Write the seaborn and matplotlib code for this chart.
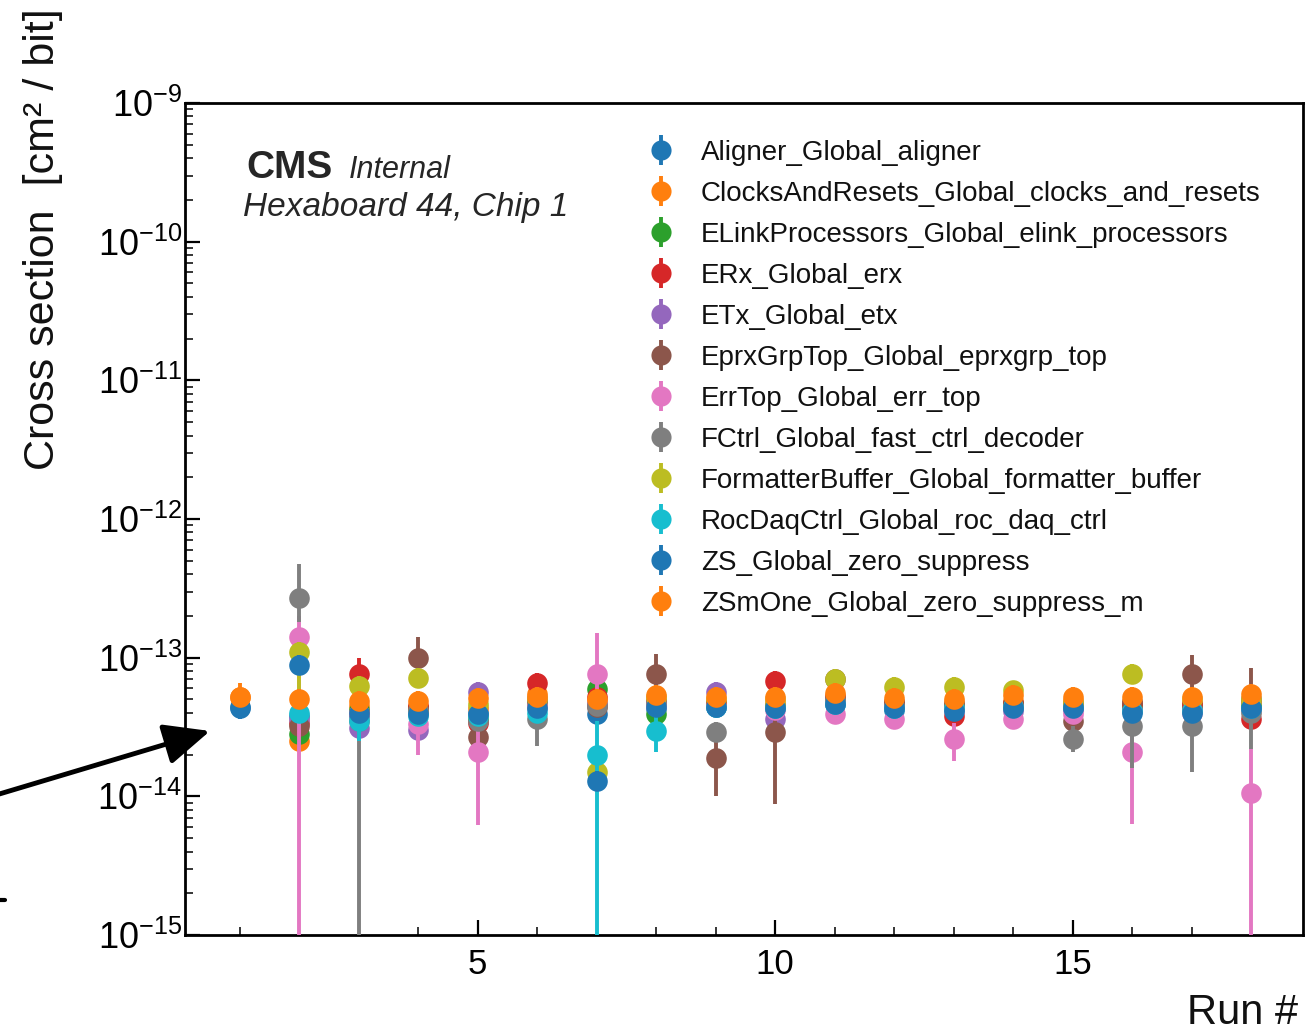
import numpy as np
import pandas as pd
import matplotlib
matplotlib.use("Agg")
import matplotlib.pyplot as plt
import seaborn as sns
from matplotlib.lines import Line2D
from matplotlib.ticker import FixedLocator, MultipleLocator, LogLocator, LogFormatterSciNotation, NullFormatter

# ---------------- data ----------------
runs = list(range(1, 19))
nan = np.nan

series_names = [
    "Aligner_Global_aligner",
    "ClocksAndResets_Global_clocks_and_resets",
    "ELinkProcessors_Global_elink_processors",
    "ERx_Global_erx",
    "ETx_Global_etx",
    "EprxGrpTop_Global_eprxgrp_top",
    "ErrTop_Global_err_top",
    "FCtrl_Global_fast_ctrl_decoder",
    "FormatterBuffer_Global_formatter_buffer",
    "RocDaqCtrl_Global_roc_daq_ctrl",
    "ZS_Global_zero_suppress",
    "ZSmOne_Global_zero_suppress_m",
]

aligner   = [4.4e-14, 3.8e-14, 3.8e-14, 4.0e-14, 4.0e-14, 4.4e-14, 3.9e-14, 4.3e-14, 4.4e-14, 4.3e-14, 4.6e-14, 4.2e-14, 4.3e-14, 4.3e-14, 4.3e-14, 4.2e-14, 4.2e-14, 4.3e-14]
clocks    = [5.2e-14, 2.5e-14, 4.5e-14, 4.4e-14, 4.3e-14, 5.5e-14, 4.8e-14, 5.0e-14, 4.8e-14, 4.8e-14, 5.3e-14, 4.8e-14, 4.8e-14, 4.9e-14, 4.9e-14, 4.8e-14, 4.8e-14, 4.8e-14]
elink     = [nan, 2.8e-14, 4.2e-14, 4.3e-14, 3.6e-14, 4.6e-14, 5.9e-14, 3.9e-14, 4.6e-14, 4.5e-14, 5.0e-14, 4.6e-14, 4.5e-14, 4.6e-14, 4.5e-14, 4.5e-14, 4.5e-14, 4.5e-14]
erx       = [nan, 3.4e-14, 7.6e-14, 4.5e-14, 3.4e-14, 6.6e-14, 5.2e-14, 4.8e-14, 4.7e-14, 6.8e-14, 5.2e-14, 4.7e-14, 3.8e-14, 4.7e-14, 4.6e-14, 4.6e-14, 4.6e-14, 3.6e-14]
etx       = [nan, 3.6e-14, 3.1e-14, 3.0e-14, 5.7e-14, 5.0e-14, 4.6e-14, 4.6e-14, 5.7e-14, 3.6e-14, 4.8e-14, 4.5e-14, 4.2e-14, 4.1e-14, 4.2e-14, 4.2e-14, 4.2e-14, 4.2e-14]
eprx      = [nan, 3.2e-14, 4.0e-14, 9.9e-14, 2.7e-14, 4.8e-14, 4.4e-14, 7.6e-14, 1.9e-14, 2.9e-14, 7.0e-14, 4.8e-14, 4.6e-14, 4.6e-14, 3.5e-14, 4.8e-14, 7.6e-14, 5.0e-14]
errtop    = [nan, 1.4e-13, 4.0e-14, 3.3e-14, 2.1e-14, 4.5e-14, 7.6e-14, 4.5e-14, 4.5e-14, 4.2e-14, 3.9e-14, 3.6e-14, 2.6e-14, 3.6e-14, 3.9e-14, 2.1e-14, 4.0e-14, 1.05e-14]
fctrl     = [nan, 2.7e-13, 3.5e-14, 4.2e-14, 3.5e-14, 3.6e-14, 4.5e-14, 4.7e-14, 2.9e-14, 4.4e-14, 5.0e-14, 4.5e-14, 4.4e-14, 4.5e-14, 2.6e-14, 3.2e-14, 3.2e-14, 4.0e-14]
formatter = [nan, 1.1e-13, 6.2e-14, 7.1e-14, 4.6e-14, 5.0e-14, 1.5e-14, 5.2e-14, 5.0e-14, 5.0e-14, 7.0e-14, 6.1e-14, 6.1e-14, 5.8e-14, 4.8e-14, 7.6e-14, 5.0e-14, 5.0e-14]
rocdaq    = [nan, 4.0e-14, 3.5e-14, 3.8e-14, 3.8e-14, 4.0e-14, 2.0e-14, 2.95e-14, 4.4e-14, 4.3e-14, 4.6e-14, 4.3e-14, 4.3e-14, 4.4e-14, 4.4e-14, 4.1e-14, 4.1e-14, 4.3e-14]
zs        = [4.35e-14, 8.9e-14, 4.0e-14, 3.9e-14, 3.9e-14, 4.3e-14, 1.3e-14, 4.4e-14, 4.4e-14, 4.3e-14, 4.6e-14, 4.3e-14, 4.1e-14, 4.3e-14, 4.3e-14, 4.0e-14, 4.0e-14, 4.3e-14]
zsmone    = [5.2e-14, 5.0e-14, 4.9e-14, 4.9e-14, 5.1e-14, 5.2e-14, 5.0e-14, 5.4e-14, 5.2e-14, 5.2e-14, 5.6e-14, 5.1e-14, 5.0e-14, 5.4e-14, 5.2e-14, 5.2e-14, 5.2e-14, 5.5e-14]

series_values = [aligner, clocks, elink, erx, etx, eprx, errtop, fctrl, formatter, rocdaq, zs, zsmone]

y_major_ticks = [1e-15, 1e-14, 1e-13, 1e-12, 1e-11, 1e-10, 1e-9]
x_major_ticks = [5, 10, 15]

# default relative uncertainties (small, mostly hidden behind the markers)
rel_err_up = 0.18
rel_err_dn = 0.15

# visible large error bars: (series index, run, lower bound, upper bound)
err_overrides = [
    (1, 1, 4.2e-14, 6.6e-14),
    (10, 1, 3.6e-14, 5.0e-14),
    (6, 2, 1e-16, 2.0e-13),
    (7, 2, 1.8e-13, 4.7e-13),
    (8, 2, 4.5e-14, 1.3e-13),
    (3, 3, 5.5e-14, 1.0e-13),
    (7, 3, 1e-16, 6.0e-14),
    (9, 3, 2.5e-14, 4.5e-14),
    (5, 4, 7.5e-14, 1.4e-13),
    (6, 4, 2.0e-14, 4.5e-14),
    (6, 5, 6.2e-15, 3.5e-14),
    (7, 6, 2.3e-14, 4.5e-14),
    (6, 7, 5.0e-14, 1.5e-13),
    (9, 7, 1e-16, 3.5e-14),
    (5, 8, 5.5e-14, 1.06e-13),
    (9, 8, 2.1e-14, 3.8e-14),
    (5, 9, 1.0e-14, 2.8e-14),
    (5, 10, 8.8e-15, 4.0e-14),
    (6, 13, 1.8e-14, 3.4e-14),
    (7, 15, 2.1e-14, 3.2e-14),
    (6, 16, 6.3e-15, 3.0e-14),
    (7, 16, 1.6e-14, 4.2e-14),
    (5, 17, 5.8e-14, 1.05e-13),
    (7, 17, 1.5e-14, 4.2e-14),
    (5, 18, 3.5e-14, 8.4e-14),
    (6, 18, 1e-16, 2.2e-14),
    (7, 18, 2.2e-14, 5.0e-14),
]

tab10 = sns.color_palette("tab10", 10)
colors = [tab10[i % 10] for i in range(12)]

# ---------------- build table ----------------
rows = []
for si, (name, vals) in enumerate(zip(series_names, series_values)):
    for r, v in zip(runs, vals):
        if np.isnan(v):
            continue
        rows.append(dict(series=name, idx=si, run=r, value=v,
                         lo=v * (1 - rel_err_dn), hi=v * (1 + rel_err_up)))
df = pd.DataFrame(rows)
for si, r, lo, hi in err_overrides:
    m = (df["idx"] == si) & (df["run"] == r)
    df.loc[m, "lo"] = lo
    df.loc[m, "hi"] = hi

# ---------------- style ----------------
sns.set_theme(style="ticks")
plt.rcParams["font.family"] = ["Liberation Sans", "DejaVu Sans"]
plt.rcParams["mathtext.fontset"] = "custom"
plt.rcParams["mathtext.rm"] = "Liberation Sans"
plt.rcParams["mathtext.it"] = "Liberation Sans:italic"
plt.rcParams["mathtext.bf"] = "Liberation Sans:bold"
plt.rcParams["mathtext.default"] = "regular"

W, H = 1315, 1031
fig = plt.figure(figsize=(W / 100, H / 100), dpi=100)
fig.patch.set_facecolor("white")
ax_l, ax_r, ax_t, ax_b = 185, 1303, 103, 935
ax = fig.add_axes([ax_l / W, 1 - ax_b / H, (ax_r - ax_l) / W, (ax_b - ax_t) / H])
ax.set_facecolor("white")

for si, name in enumerate(series_names):
    sub = df[df["idx"] == si]
    c = colors[si]
    ax.errorbar(sub["run"], sub["value"],
                yerr=[sub["value"] - sub["lo"], sub["hi"] - sub["value"]],
                fmt="none", ecolor=c, elinewidth=2.8, capsize=0, zorder=2 + si * 0.1)
    sns.scatterplot(data=sub, x="run", y="value", color=c, s=220, linewidth=0,
                    ax=ax, zorder=2.05 + si * 0.1, legend=False)

ax.set_yscale("log")
ax.set_ylim(1e-15, 1e-9)
ax.set_xlim(0.08, 18.87)

ax.xaxis.set_major_locator(FixedLocator(x_major_ticks))
ax.xaxis.set_minor_locator(MultipleLocator(1))
ax.yaxis.set_major_locator(FixedLocator(y_major_ticks))
ax.yaxis.set_major_formatter(LogFormatterSciNotation())
ax.yaxis.set_minor_locator(LogLocator(base=10, subs=np.arange(2, 10), numticks=100))
ax.yaxis.set_minor_formatter(NullFormatter())

ax.tick_params(axis="both", which="major", direction="in", length=11, width=1.6,
               labelsize=26, colors="black", top=False, right=False)
ax.tick_params(axis="both", which="minor", direction="in", length=6, width=1.3,
               top=False, right=False)
ax.tick_params(axis="y", which="major", pad=2)
ax.tick_params(axis="x", which="major", pad=9, labelsize=25)
for sp in ax.spines.values():
    sp.set_visible(True)
    sp.set_linewidth(2.0)
    sp.set_color("black")

ax.set_xlabel("")
ax.set_ylabel("")

def fx(px):
    return px / W

def fy(py):
    return 1 - py / H

fig.text(fx(1298), fy(1013), "Run #", ha="right", va="center", fontsize=30, color="#111111")
fig.text(fx(43), fy(8), "Cross section  [cm\u00b2 / bit]", rotation=90, ha="center", va="top",
         fontsize=31, color="#111111")

# CMS label
fig.text(fx(246), fy(178), "CMS", fontsize=28, fontweight="bold", ha="left", va="baseline")
fig.text(fx(349), fy(178), "Internal", fontsize=22, fontstyle="italic", ha="left", va="baseline")
fig.text(fx(243), fy(216), "Hexaboard 44, Chip 1", fontsize=24, fontstyle="italic", ha="left", va="baseline")

# legend
handles = []
for c in colors:
    h_bar = Line2D([], [], color=c, marker="|", markersize=22, markeredgewidth=2.8, linestyle="none")
    h_dot = Line2D([], [], color=c, marker="o", markersize=14.5, markeredgewidth=0, linestyle="none")
    handles.append((h_bar, h_dot))
leg = ax.legend(handles, series_names, loc="upper left", frameon=False, fontsize=20,
                bbox_to_anchor=(fx(633), fy(129)), bbox_transform=fig.transFigure,
                handletextpad=0.85, labelspacing=0.54, handlelength=1.2, borderaxespad=0)
for t in leg.get_texts():
    t.set_color("#111111")

# annotation arrow (from the slide)
ax.annotate("", xy=(210, H - 731), xycoords="figure pixels",
            xytext=(-4, H - 795), textcoords="figure pixels",
            arrowprops=dict(arrowstyle="-|>,head_length=1.0,head_width=0.45", lw=3.5,
                            color="black", mutation_scale=28, shrinkA=0, shrinkB=0),
            annotation_clip=False)
fig.add_artist(Line2D([0, fx(5)], [fy(900), fy(900)], color="black", lw=3, transform=fig.transFigure))

fig.savefig("out.png", dpi=100, facecolor="white")
